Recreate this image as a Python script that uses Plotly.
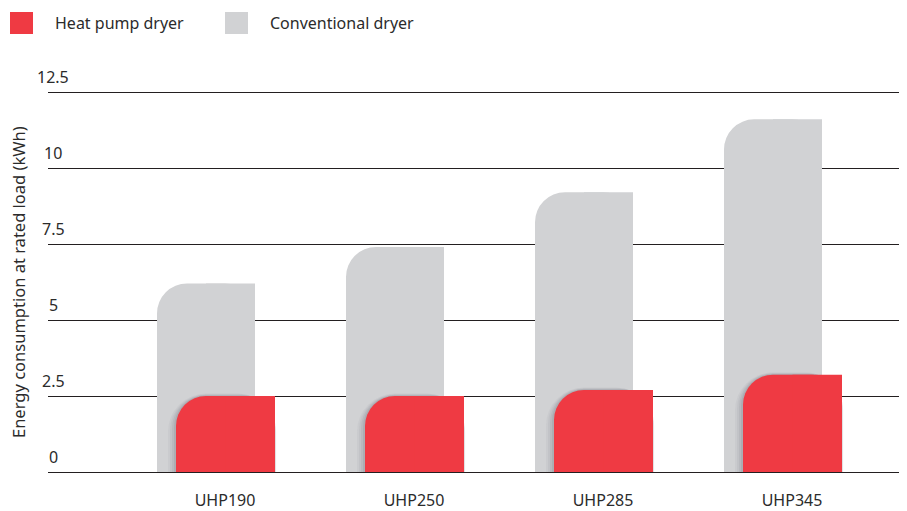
import plotly.graph_objects as go

categories = ["UHP190", "UHP250", "UHP285", "UHP345"]
conventional = [6.2, 7.4, 9.2, 11.6]
heat_pump = [2.5, 2.5, 2.7, 3.2]
y_ticks = [0, 2.5, 5, 7.5, 10, 12.5]
y_tick_labels = ["0", "2.5", "5", "7.5", "10", "12.5"]
series_names = ["Heat pump dryer", "Conventional dryer"]

RED = "#ef3a43"
GRAY = "#d1d2d4"
TXT = "#2b2b2b"
FONT = "Noto Sans"

OFF = 8  # page body margin
W, H = 907 - OFF, 511 - OFF
REF_LEFT, REF_TOP, REF_BOTTOM = 48, 92, 472
PAD = 4  # px of padding above/below the outer gridlines
ML = REF_LEFT - OFF
MT = REF_TOP - OFF - PAD
MB = H - (REF_BOTTOM - OFF) - PAD
MR = 0
PW, PH = W - ML - MR, H - MT - MB
YPX = 12.5 / (REF_BOTTOM - REF_TOP)  # one pixel in data units
y_range = [0 - PAD * YPX, 12.5 + PAD * YPX]

PX_PER_CAT = 189.0
x_pos = list(range(len(categories)))
first_center_px = 225
x_lo = -(first_center_px - REF_LEFT) / PX_PER_CAT
x_hi = x_lo + PW / PX_PER_CAT

def u(px):
    return px / PX_PER_CAT

g_off, g_w = u(-68), u(98)
r_off, r_w = u(-49), u(99)
RADIUS = 30

fig = go.Figure()

fig.add_trace(go.Bar(x=x_pos, y=conventional, offset=g_off, width=g_w,
                     marker=dict(color=GRAY, cornerradius=RADIUS, line=dict(width=0)),
                     name=series_names[1], showlegend=False, hoverinfo="skip"))
fig.add_trace(go.Bar(x=x_pos, y=conventional, offset=g_off + g_w / 2, width=g_w / 2,
                     marker=dict(color=GRAY, line=dict(width=0)),
                     showlegend=False, hovertemplate="%{y}<extra>" + series_names[1] + "</extra>"))

for k, op in [(8, 0.04), (6, 0.05), (4, 0.07), (2, 0.09)]:
    fig.add_trace(go.Bar(x=x_pos, y=[v + k * 0.3 * YPX for v in heat_pump],
                         offset=r_off - u(k), width=r_w + u(k) * 1.15,
                         marker=dict(color=f"rgba(60,60,70,{op})", cornerradius=RADIUS + k,
                                     line=dict(width=0)),
                         showlegend=False, hoverinfo="skip"))

fig.add_trace(go.Bar(x=x_pos, y=heat_pump, offset=r_off, width=r_w,
                     marker=dict(color=RED, cornerradius=RADIUS, line=dict(width=0)),
                     name=series_names[0], showlegend=False, hoverinfo="skip"))
fig.add_trace(go.Bar(x=x_pos, y=heat_pump, offset=r_off + r_w / 2, width=r_w / 2,
                     marker=dict(color=RED, line=dict(width=0)),
                     showlegend=False, hovertemplate="%{y}<extra>" + series_names[0] + "</extra>"))

annotations = []
for v, lab in zip(y_ticks, y_tick_labels):
    annotations.append(dict(x=0, y=v, xref="paper", yref="y", text=lab, showarrow=False,
                            xanchor="center", yanchor="middle", xshift=5, yshift=15,
                            font=dict(family=FONT, size=16, color=TXT)))
annotations.append(dict(x=0, y=0.5, xref="paper", yref="paper",
                        text="Energy consumption at rated load (kWh)", textangle=-90,
                        showarrow=False, xanchor="center", yanchor="middle", xshift=-30,
                        font=dict(family=FONT, size=16.5, color=TXT)))

def px_x(p):
    return (p - OFF - ML) / PW

def px_y(p):
    return 1 + (MT - (p - OFF)) / PH

shapes = []
legend_items = [(10, 53, RED, series_names[0]), (225, 268, GRAY, series_names[1])]
for sx, tx, col, nm in legend_items:
    shapes.append(dict(type="rect", xref="paper", yref="paper",
                       x0=px_x(sx), x1=px_x(sx + 23), y0=px_y(34), y1=px_y(12),
                       fillcolor=col, line=dict(width=0)))
    annotations.append(dict(x=px_x(tx), y=px_y(23), xref="paper", yref="paper", text=nm,
                            showarrow=False, xanchor="left", yanchor="middle",
                            font=dict(family=FONT, size=16, color=TXT)))

fig.update_layout(
    width=W, height=H,
    margin=dict(l=ML, r=MR, t=MT, b=MB),
    paper_bgcolor="white", plot_bgcolor="white",
    barmode="overlay",
    showlegend=False,
    annotations=annotations,
    shapes=shapes,
    xaxis=dict(range=[x_lo, x_hi], tickvals=x_pos, ticktext=categories,
               showgrid=False, zeroline=False, showline=False,
               ticks="outside", ticklen=10, tickcolor="rgba(0,0,0,0)",
               tickfont=dict(family=FONT, size=16, color=TXT)),
    yaxis=dict(range=y_range, tickvals=y_ticks, showticklabels=False,
               showgrid=True, gridcolor="#231f20", gridwidth=1,
               zeroline=False, showline=False, ticks=""),
)

fig.write_html("out.html")
